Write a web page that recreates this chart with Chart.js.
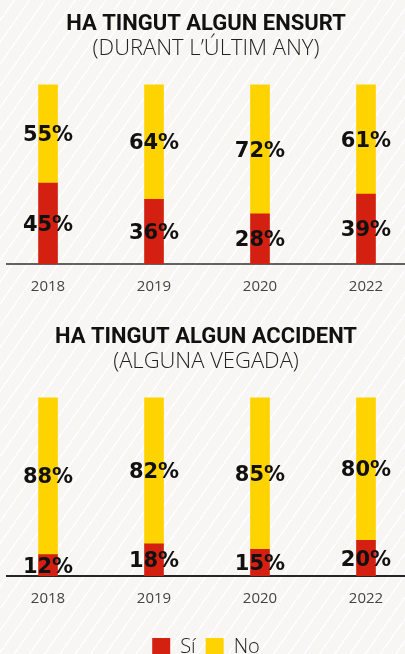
<!DOCTYPE html>
<html>
<head>
<meta charset="utf-8">
<script src="https://cdn.jsdelivr.net/npm/chart.js@4"></script>
<style>
  html, body { margin: 0; padding: 0; }
  body {
    width: 405px;
    height: 654px;
    overflow: hidden;
    background-color: #f7f6f2;
    background-image: repeating-linear-gradient(125deg, rgba(255,255,255,0) 0px, rgba(255,255,255,0) 11px, rgba(255,255,255,0.9) 11px, rgba(255,255,255,0.9) 12.5px);
  }
  .box { position: relative; width: 405px; }
  #box1 { height: 313px; }
  #box2 { height: 354px; }
</style>
</head>
<body>
<div class="box" id="box1"><canvas id="ensurt"></canvas></div>
<div class="box" id="box2"><canvas id="accident"></canvas></div>
<script>
const years = ["2018", "2019", "2020", "2022"];

const ensurtSi = [45, 36, 28, 39];
const ensurtNo = [55, 64, 72, 61];

const accidentSi = [12, 18, 15, 20];
const accidentNo = [88, 82, 85, 80];

const red = "#d42011";
const yellow = "#ffd300";

// etiquetes de percentatge al centre de cada tros de barra
const pctLabels = {
  id: "pctLabels",
  afterDatasetsDraw(chart) {
    const ctx = chart.ctx;
    ctx.save();
    ctx.font = "bold 21px 'DejaVu Sans'";
    ctx.fillStyle = "#111";
    ctx.textAlign = "center";
    ctx.textBaseline = "middle";
    chart.data.datasets.forEach((ds, di) => {
      const meta = chart.getDatasetMeta(di);
      meta.data.forEach((bar, i) => {
        const p = bar.getCenterPoint();
        ctx.fillText(ds.data[i].y + "%", p.x, p.y + 2);
      });
    });
    ctx.restore();
  },
};

function makeChart(id, title, subtitle, si, no, withLegend) {
  const ctx = document.getElementById(id).getContext("2d");
  return new Chart(ctx, {
    type: "bar",
    data: {
      datasets: [
        {
          label: "Sí",
          data: si.map((v, i) => ({ x: i, y: v })),
          backgroundColor: red,
          borderWidth: 0,
          barThickness: 19,
        },
        {
          label: "No",
          data: no.map((v, i) => ({ x: i, y: v })),
          backgroundColor: yellow,
          borderWidth: 0,
          barThickness: 19,
        },
      ],
    },
    options: {
      responsive: true,
      maintainAspectRatio: false,
      animation: false,
      layout: { padding: { left: 7, right: 0, top: 0, bottom: withLegend ? 0 : 3 } },
      plugins: {
        tooltip: { enabled: false },
        title: {
          display: true,
          text: title,
          color: "#111",
          font: { family: "Roboto", size: 22, weight: "bold", lineHeight: 1.1 },
          padding: { top: 12, bottom: 0 },
        },
        subtitle: {
          display: true,
          text: subtitle,
          color: "#222",
          font: { family: "Open Sans", size: 22, weight: "300", lineHeight: 1.1 },
          padding: { top: 0, bottom: 24 },
        },
        legend: {
          display: withLegend,
          position: "bottom",
          labels: {
            boxWidth: 18,
            boxHeight: 18,
            padding: 10,
            color: "#222",
            font: { family: "Open Sans", size: 20, weight: "300" },
          },
        },
      },
      scales: {
        x: {
          type: "linear",
          stacked: true,
          offset: false,
          min: -0.387,
          max: 3.368,
          z: 1,
          grid: { display: false, drawTicks: false, offset: false },
          border: { display: true, color: withLegend ? "rgba(0,0,0,0.85)" : "rgba(0,0,0,0.6)", width: 2 },
          afterBuildTicks: (scale) => {
            scale.ticks = years.map((_, i) => ({ value: i }));
          },
          afterFit: (scale) => {
            if (withLegend) scale.height += 5;
          },
          ticks: {
            padding: 14,
            color: "#444",
            font: { family: "Open Sans", size: 15 },
            callback: (v) => years[v],
          },
        },
        y: {
          stacked: true,
          min: 0,
          max: 100,
          display: false,
        },
      },
    },
    plugins: [pctLabels],
  });
}

makeChart("ensurt", "HA TINGUT ALGUN ENSURT", "(DURANT L\u2019\u00daLTIM ANY)", ensurtSi, ensurtNo, false);
makeChart("accident", "HA TINGUT ALGUN ACCIDENT", "(ALGUNA VEGADA)", accidentSi, accidentNo, true);
</script>
</body>
</html>
